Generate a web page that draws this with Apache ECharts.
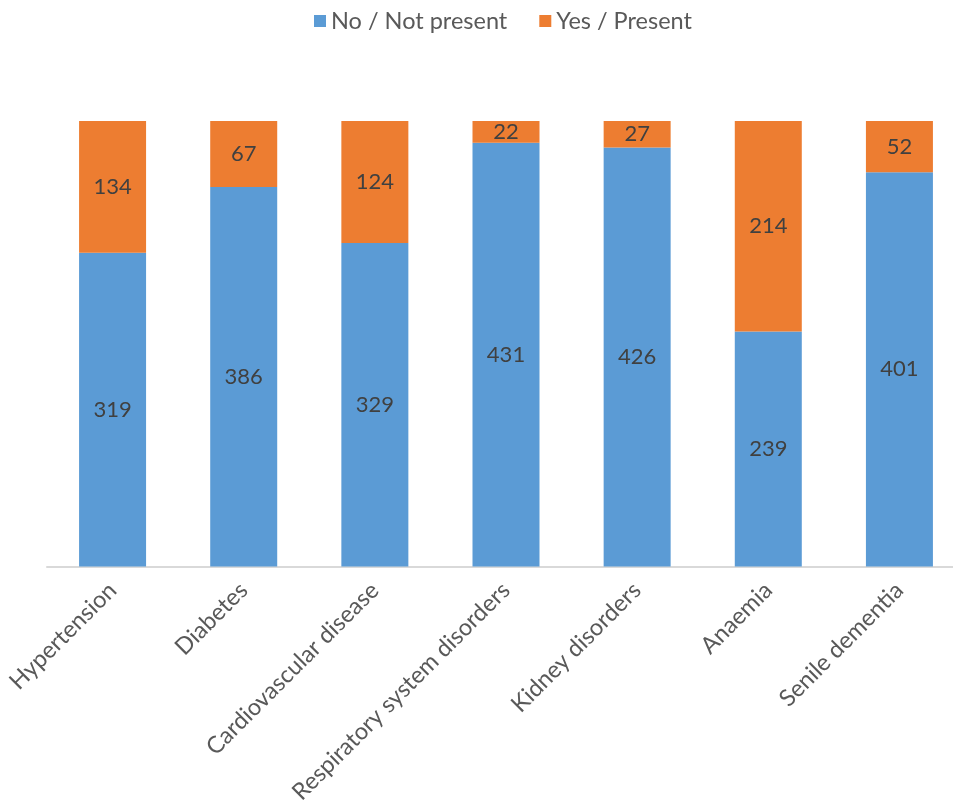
<!DOCTYPE html>
<html><head><meta charset="utf-8">
<script src="https://cdn.jsdelivr.net/npm/echarts@6/dist/echarts.min.js"></script>
<style>html,body{margin:0;padding:0;background:#fff}#c{width:953px;height:809px}</style>
</head><body><div id="c"></div>
<script>
const categories = ["Hypertension","Diabetes","Cardiovascular disease","Respiratory system disorders","Kidney disorders","Anaemia","Senile dementia"];
const seriesNames = ["No / Not present","Yes / Present"];
const noValues = [319,386,329,431,426,239,401];
const yesValues = [134,67,124,22,27,214,52];
const yMax = 453;

const FONT = "Lato";
const chart = echarts.init(document.getElementById('c'));
const lbl = {show:true, position:'inside', color:'#404040', fontSize:22, fontFamily:FONT};
chart.setOption({
  animation:false,
  textStyle:{fontFamily:FONT},
  legend:{top:4, left:309, itemWidth:12, itemHeight:12, itemGap:32, icon:'rect',
    textStyle:{color:'#595959', fontSize:23.5, fontFamily:FONT}},
  grid:{left:47, top:121, width:918, height:445.5, containLabel:false, outerBoundsMode:'none'},
  xAxis:{type:'category', data:categories,
    axisLine:{lineStyle:{color:'#d9d9d9', width:2}},
    axisTick:{show:false},
    axisLabel:{rotate:45, color:'#595959', fontSize:23.5, fontFamily:FONT, margin:20, interval:0}},
  yAxis:{type:'value', min:0, max:yMax, show:false, splitLine:{show:false}},
  series:[
    {name:seriesNames[0], type:'bar', stack:'s', data:noValues, barWidth:67, itemStyle:{color:'#5b9bd5'}, label:lbl},
    {name:seriesNames[1], type:'bar', stack:'s', data:yesValues, barWidth:67, itemStyle:{color:'#ed7d31'}, label:lbl}
  ]
});
</script></body></html>
